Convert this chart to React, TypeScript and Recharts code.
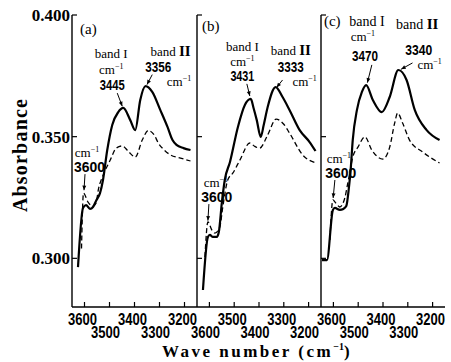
import React from 'react'
import { LineChart, Line, XAxis, YAxis, ReferenceDot, ReferenceLine, Label } from 'recharts'

const W = 451
const H = 362

// panel (a): solid and dashed spectra (wave number, absorbance)
const waveA1 = [3626, 3606, 3594, 3578, 3566, 3554, 3538, 3526, 3509, 3489, 3465, 3445, 3417, 3397, 3377, 3356, 3329, 3297, 3268, 3248, 3232, 3204, 3176]
const absA1 = [0.2964, 0.3207, 0.3219, 0.3203, 0.3211, 0.3236, 0.3268, 0.3322, 0.3445, 0.3548, 0.3601, 0.3618, 0.3568, 0.3527, 0.3651, 0.3708, 0.3684, 0.361, 0.354, 0.3486, 0.3466, 0.3453, 0.3445]
const waveA2 = [3612, 3604, 3586, 3566, 3554, 3544, 3526, 3497, 3473, 3449, 3425, 3397, 3369, 3345, 3320, 3305, 3285, 3256, 3216, 3176]
const absA2 = [0.304, 0.3268, 0.3231, 0.3215, 0.3227, 0.3285, 0.334, 0.3404, 0.3453, 0.3462, 0.344, 0.3416, 0.3486, 0.3525, 0.3505, 0.3474, 0.3449, 0.3425, 0.3412, 0.34]

// panel (b)
const waveB1 = [3626, 3606, 3598, 3586, 3570, 3562, 3550, 3538, 3517, 3485, 3457, 3433, 3422, 3409, 3393, 3381, 3365, 3333, 3305, 3277, 3236, 3196, 3172]
const absB1 = [0.287, 0.3088, 0.3096, 0.3088, 0.3088, 0.3108, 0.3227, 0.3322, 0.3396, 0.354, 0.363, 0.3655, 0.3618, 0.3568, 0.3499, 0.3548, 0.3622, 0.3704, 0.3663, 0.361, 0.3527, 0.3478, 0.3441]
const waveB2 = [3618, 3606, 3590, 3578, 3558, 3546, 3526, 3505, 3477, 3437, 3417, 3397, 3365, 3331, 3301, 3277, 3224, 3168]
const absB2 = [0.3005, 0.315, 0.3116, 0.3104, 0.3129, 0.3211, 0.3322, 0.3351, 0.3404, 0.3474, 0.346, 0.3453, 0.3507, 0.3572, 0.3552, 0.3515, 0.3425, 0.3392]

// panel (c)
const waveC1 = [3646, 3626, 3602, 3594, 3574, 3560, 3548, 3538, 3530, 3522, 3505, 3485, 3468, 3441, 3405, 3373, 3338, 3305, 3272, 3224, 3172]
const absC1 = [0.2993, 0.2993, 0.3199, 0.3207, 0.3199, 0.3203, 0.3215, 0.3285, 0.337, 0.3486, 0.361, 0.3684, 0.3712, 0.3651, 0.3601, 0.3663, 0.3774, 0.3733, 0.361, 0.3527, 0.3486]
const waveC2 = [3614, 3602, 3590, 3574, 3554, 3542, 3534, 3522, 3501, 3473, 3445, 3401, 3373, 3353, 3341, 3321, 3293, 3240, 3172]
const absC2 = [0.3075, 0.324, 0.3227, 0.3211, 0.3248, 0.3309, 0.3351, 0.3416, 0.3457, 0.3499, 0.3445, 0.3408, 0.3457, 0.3556, 0.3597, 0.3556, 0.3486, 0.3437, 0.3392]

const xTicks = [3600, 3500, 3400, 3300, 3200]
const yTicks = [0.3, 0.35, 0.4]

const serif = "'Liberation Serif', 'DejaVu Serif', serif"
const gothic = "'Liberation Sans', Arial, sans-serif"

const pts = (w: number[], a: number[]) => w.map((x, i) => ({ w: x, a: a[i] }))

const XTick = (p: any) => {
  const { x, y, payload, upper } = p
  const v = payload.value
  const top = upper.includes(v)
  return (
    <g>
      <line x1={x} x2={x} y1={y} y2={y - 5} stroke="#000" strokeWidth={1.2} />
      <text x={x - (top ? 2 : 4)} y={y + (top ? 18 : 31)} textAnchor="middle" fontFamily={gothic}
        fontSize={16} fontWeight="bold" textLength={29} lengthAdjust="spacingAndGlyphs">{v}</text>
    </g>
  )
}

const YTick = (p: any) => {
  const { x, y, payload, showLabel } = p
  return (
    <g>
      <line x1={x} x2={x + 5} y1={y} y2={y} stroke="#000" strokeWidth={1.2} />
      {showLabel && (
        <text x={x - 2} y={y + 6} textAnchor="end" fontFamily={serif} fontSize={17} fontWeight="bold">
          {payload.value.toFixed(3)}
        </text>
      )}
    </g>
  )
}

const cm = (
  <>
    <tspan>cm</tspan>
    <tspan dy={-5} fontSize={8}>−1</tspan>
  </>
)

const bandII = (
  <>
    <tspan>band </tspan>
    <tspan fontSize={15} fontWeight="bold">II</tspan>
  </>
)

const note = (txt: React.ReactNode, anchor: 'start' | 'middle' = 'middle', size = 13) => (p: any) => (
  <text x={p.cx} y={p.cy} textAnchor={anchor} fontFamily={serif} fontSize={size}>{txt}</text>
)

const num = (txt: string, len = 25) => (p: any) => (
  <text x={p.cx} y={p.cy} textAnchor="middle" fontFamily={gothic} fontSize={14} fontWeight="bold"
    textLength={len} lengthAdjust="spacingAndGlyphs">{txt}</text>
)

const Arrow = (p: any) => {
  const { x1, y1, x2, y2 } = p
  const ang = Math.atan2(y2 - y1, x2 - x1)
  const s = 5
  const a1 = [x2 - s * Math.cos(ang - 0.4), y2 - s * Math.sin(ang - 0.4)]
  const a2 = [x2 - s * Math.cos(ang + 0.4), y2 - s * Math.sin(ang + 0.4)]
  return (
    <g>
      <line x1={x1} y1={y1} x2={x2} y2={y2} stroke="#000" strokeWidth={1} />
      <polygon points={`${x2},${y2} ${a1[0]},${a1[1]} ${a2[0]},${a2[1]}`} fill="#000" />
    </g>
  )
}

function Panel({ left, right, yWidth, showY, upper, solid, dashed, children, title }: any) {
  return (
    <div style={{ position: 'absolute', left: 0, top: 0 }}>
      <LineChart width={W} height={H} margin={{ top: 15, right, bottom: 0, left }}>
        <XAxis type="number" dataKey="w" domain={[3150, 3650]} reversed allowDataOverflow ticks={xTicks}
          interval={0} tick={<XTick upper={upper} />} tickLine={false} tickSize={0} tickMargin={0} height={55}
          axisLine={{ stroke: '#000', strokeWidth: 1.4 }}>
          {title && (
            <Label content={(lp: any) => (
              <text x={lp.viewBox.x + lp.viewBox.width / 2 - 2} y={lp.viewBox.y + 50} textAnchor="middle"
                fontFamily={serif} fontSize={17} fontWeight="bold" letterSpacing={2.5}>
                Wave number (cm<tspan dy={-7} fontSize={10} letterSpacing={0}>−1</tspan><tspan dy={7}>)</tspan>
              </text>
            )} />
          )}
        </XAxis>
        <YAxis type="number" domain={[0.28, 0.4]} ticks={yTicks} interval={0} allowDataOverflow
          tick={<YTick showLabel={showY} />} tickLine={false} tickSize={0} tickMargin={0} width={yWidth}
          axisLine={{ stroke: '#000', strokeWidth: 1.4 }}>
          {showY && (
            <Label content={() => (
              <text x={27} y={155} transform="rotate(-90, 27, 155)" textAnchor="middle" fontFamily={serif}
                fontSize={20} fontWeight="bold" letterSpacing={1.2}>Absorbance</text>
            )} />
          )}
        </YAxis>
        <Line data={dashed} dataKey="a" type="monotone" stroke="#000" strokeWidth={1.3} strokeDasharray="5 3"
          dot={false} isAnimationActive={false} />
        <Line data={solid} dataKey="a" type="monotone" stroke="#000" strokeWidth={2.2}
          dot={false} isAnimationActive={false} />
        {children}
      </LineChart>
    </div>
  )
}

export default function App() {
  return (
    <div style={{ position: 'relative', width: W, height: H, background: '#fff' }}>
      <style>{'body{margin:0}'}</style>
      <Panel left={0} right={254} yWidth={72} showY upper={[3600, 3400, 3200]}
        solid={pts(waveA1, absA1)} dashed={pts(waveA2, absA2)}>
        <ReferenceDot x={3618} y={0.3922} shape={note('(a)', 'start', 15)} />
        <ReferenceDot x={3493} y={0.3823} shape={note('band I')} />
        <ReferenceDot x={3493} y={0.3758} shape={note(cm)} />
        <ReferenceDot x={3489} y={0.3692} shape={num('3445')} />
        <ReferenceLine segment={[{ x: 3469, y: 0.3679 }, { x: 3449, y: 0.3625 }]} shape={Arrow} />
        <ReferenceDot x={3256} y={0.3831} shape={note(bandII)} />
        <ReferenceDot x={3305} y={0.3764} shape={num('3356', 26)} />
        <ReferenceDot x={3222} y={0.3709} shape={note(cm)} />
        <ReferenceLine segment={[{ x: 3329, y: 0.3755 }, { x: 3350, y: 0.3714 }]} shape={Arrow} />
        <ReferenceDot x={3590} y={0.3416} shape={note(cm)} />
        <ReferenceDot x={3580} y={0.3355} shape={num('3600', 31)} />
        <ReferenceLine segment={[{ x: 3598, y: 0.3346 }, { x: 3602, y: 0.328 }]} shape={Arrow} />
      </Panel>
      <Panel left={190} right={130} yWidth={7} showY={false} upper={[3500, 3300]} title
        solid={pts(waveB1, absB1)} dashed={pts(waveB2, absB2)}>
        <ReferenceDot x={3630} y={0.3934} shape={note('(b)', 'start', 15)} />
        <ReferenceDot x={3467} y={0.3852} shape={note('band I')} />
        <ReferenceDot x={3467} y={0.3790} shape={note(cm)} />
        <ReferenceDot x={3467} y={0.3729} shape={num('3431', 24)} />
        <ReferenceLine segment={[{ x: 3449, y: 0.3717 }, { x: 3437, y: 0.3667 }]} shape={Arrow} />
        <ReferenceDot x={3272} y={0.3836} shape={note(bandII)} />
        <ReferenceDot x={3272} y={0.3766} shape={num('3333', 26)} />
        <ReferenceDot x={3216} y={0.3708} shape={note(cm)} />
        <ReferenceLine segment={[{ x: 3305, y: 0.3733 }, { x: 3329, y: 0.3702 }]} shape={Arrow} />
        <ReferenceDot x={3574} y={0.3293} shape={note(cm)} />
        <ReferenceDot x={3570} y={0.3231} shape={num('3600', 31)} />
        <ReferenceLine segment={[{ x: 3602, y: 0.3223 }, { x: 3606, y: 0.3155 }]} shape={Arrow} />
      </Panel>
      <Panel left={314} right={6} yWidth={7} showY={false} upper={[3600, 3400, 3200]}
        solid={pts(waveC1, absC1)} dashed={pts(waveC2, absC2)}>
        <ReferenceDot x={3638} y={0.3955} shape={note('(c)', 'start', 15)} />
        <ReferenceDot x={3465} y={0.3955} shape={note('band I', 'middle', 14)} />
        <ReferenceDot x={3481} y={0.3893} shape={note(cm)} />
        <ReferenceDot x={3473} y={0.3811} shape={num('3470', 26)} />
        <ReferenceLine segment={[{ x: 3445, y: 0.3795 }, { x: 3463, y: 0.3722 }]} shape={Arrow} />
        <ReferenceDot x={3262} y={0.3942} shape={note(bandII, 'middle', 14)} />
        <ReferenceDot x={3256} y={0.3836} shape={num('3340', 27)} />
        <ReferenceDot x={3212} y={0.3778} shape={note(cm)} />
        <ReferenceLine segment={[{ x: 3281, y: 0.3803 }, { x: 3327, y: 0.3777 }]} shape={Arrow} />
        <ReferenceDot x={3578} y={0.3392} shape={note(cm)} />
        <ReferenceDot x={3570} y={0.333} shape={num('3600', 31)} />
        <ReferenceLine segment={[{ x: 3594, y: 0.3322 }, { x: 3601, y: 0.3248 }]} shape={Arrow} />
      </Panel>
    </div>
  )
}
